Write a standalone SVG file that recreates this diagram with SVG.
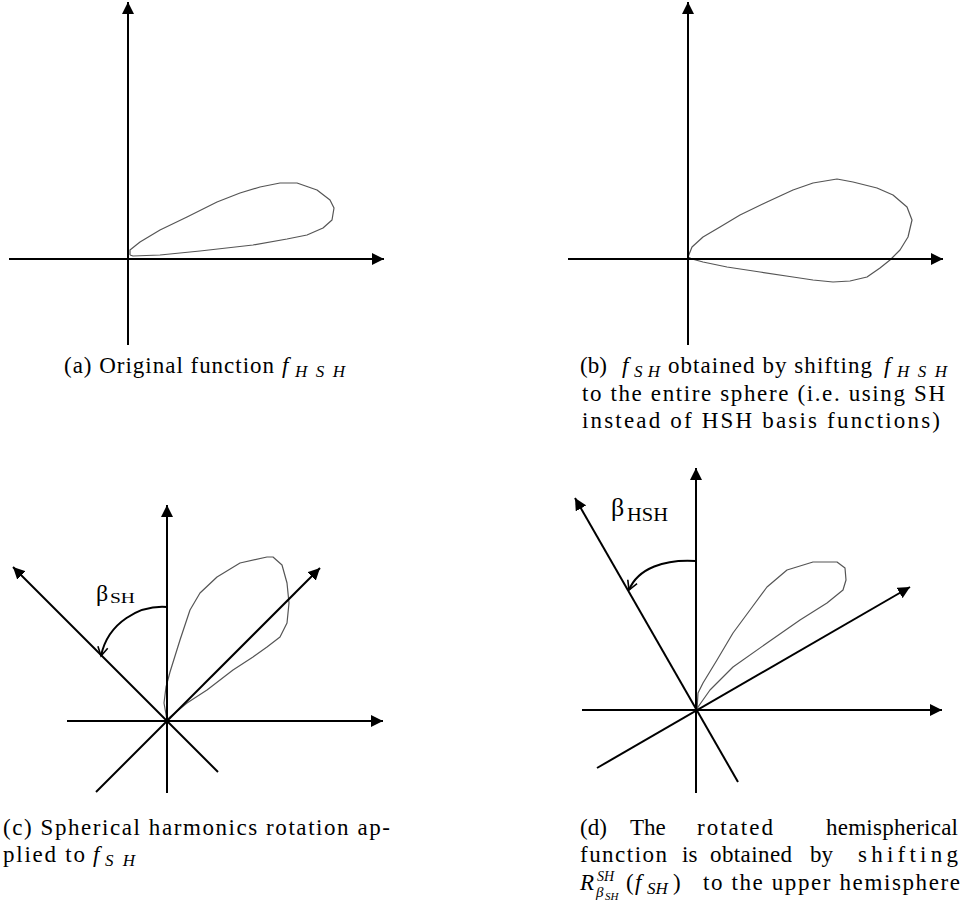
<svg xmlns="http://www.w3.org/2000/svg" width="962" height="903" viewBox="0 0 962 903">
<defs>
<marker id="ah" markerWidth="13" markerHeight="12" refX="12" refY="6" orient="auto" markerUnits="userSpaceOnUse"><path d="M0,0 L12,6 L0,12 z" fill="#000"/></marker>
<marker id="oa" markerWidth="12" markerHeight="12" refX="10" refY="6" orient="auto" markerUnits="userSpaceOnUse"><path d="M1,1 L10,6 L1,11" fill="none" stroke="#000" stroke-width="1.6"/></marker>
</defs>
<style>
.ax{stroke:#000;stroke-width:2;fill:none}
.arr{marker-end:url(#ah)}
.lobe{stroke:#555;stroke-width:1.2;fill:none;stroke-linejoin:round}
.arc{stroke:#000;stroke-width:2;fill:none;marker-end:url(#oa)}
</style>
<rect width="962" height="903" fill="#fff"/>

<g id="panel-a">
<polyline class="lobe" points="130,255 130,250 140,242 160,230 187,217 217,202 240,193 260,187 280,183 297,183 317,190 330,200 334,208 332,220 323,228 307,235 287,239 253,245 200,251 160,255 133,256 130,255"/>
</g>
<g id="panel-b">
<polyline class="lobe" points="688,257 692,247 703,237 720,227 740,215 767,202 793,190 813,183 837,179 853,182 877,188 893,195 907,207 912,220 908,237 900,250 890,260 880,268 867,277 850,281 833,282 813,280 793,277 760,272 727,267 703,262 692,259 688,257"/>
</g>
<g id="panel-c" font-family="Liberation Serif, DejaVu Serif, serif" fill="#000">
<polyline class="lobe" points="167,720 164,703 166,687 170,672 180,640 190,610 200,593 217,577 240,563 267,557 273,557 282,565 287,583 289,603 287,623 280,637 267,647 253,657 233,670 207,690 187,703 170,717 167,720"/>
<text x="96" y="601" font-size="24">β</text>
<text x="110" y="603" font-size="15" textLength="25" lengthAdjust="spacingAndGlyphs">SH</text>
</g>
<g id="panel-d" font-family="Liberation Serif, DejaVu Serif, serif" fill="#000">
<polyline class="lobe" points="697,710 698,693 703,683 717,660 733,633 750,610 767,587 787,570 813,562 837,562 845,568 846,580 843,590 827,603 800,620 767,643 733,667 710,690 698,707 697,710"/>
<text x="611" y="516" font-size="26">β</text>
<text x="627" y="521" font-size="18" textLength="41" lengthAdjust="spacingAndGlyphs">HSH</text>
</g>

<g id="connectors">
<path class="ax arr" d="M128,345 L128,2"/>
<path class="ax arr" d="M9,259 L384,259"/>
<path class="ax arr" d="M688,345 L688,2"/>
<path class="ax arr" d="M568,259 L943,259"/>
<path class="ax arr" d="M167,793 L167,505"/>
<path class="ax arr" d="M67,721 L383,721"/>
<path class="ax arr" d="M218,772 L13,567"/>
<path class="ax arr" d="M96,792 L320,568"/>
<path class="arc" d="M167,607 C140,605 108,622 101,656"/>
<path class="ax arr" d="M696,793 L696,468"/>
<path class="ax arr" d="M582,710 L942,710"/>
<path class="ax arr" d="M738,782 L575,498"/>
<path class="ax arr" d="M597,768 L910,587"/>
<path class="arc" d="M696,561 C665,559 638,568 629,590"/>
</g>

<g id="captions" font-family="Liberation Serif, DejaVu Serif, serif" font-size="23" fill="#000">
<text x="64" y="373" textLength="210" lengthAdjust="spacing">(a) Original function</text>
<text x="282" y="373" font-style="italic">f</text>
<text x="295" y="377" font-size="17" font-style="italic" textLength="50" lengthAdjust="spacing">HSH</text>

<text x="580" y="373">(b)</text>
<text x="622" y="373" font-style="italic">f</text>
<text x="634" y="377" font-size="17" font-style="italic" textLength="26" lengthAdjust="spacing">SH</text>
<text x="668" y="373" textLength="204" lengthAdjust="spacing">obtained by shifting</text>
<text x="884" y="373" font-style="italic">f</text>
<text x="897" y="377" font-size="17" font-style="italic" textLength="50" lengthAdjust="spacing">HSH</text>
<text x="582" y="401" textLength="363" lengthAdjust="spacing">to the entire sphere (i.e.  using SH</text>
<text x="582" y="428" textLength="358" lengthAdjust="spacing">instead of HSH basis functions)</text>

<text x="3" y="835" textLength="387" lengthAdjust="spacing">(c) Spherical harmonics rotation ap-</text>
<text x="3" y="862" textLength="82" lengthAdjust="spacing">plied to</text>
<text x="93" y="862" font-style="italic">f</text>
<text x="105" y="866" font-size="17" font-style="italic" textLength="30" lengthAdjust="spacing">SH</text>

<text x="580" y="835">(d)</text>
<text x="630" y="835">The</text>
<text x="697" y="835" textLength="76" lengthAdjust="spacing">rotated</text>
<text x="826" y="835" textLength="132" lengthAdjust="spacing">hemispherical</text>
<text x="580" y="862" textLength="87" lengthAdjust="spacing">function</text>
<text x="682" y="862">is</text>
<text x="710" y="862" textLength="82" lengthAdjust="spacing">obtained</text>
<text x="810" y="862">by</text>
<text x="858" y="862" textLength="100" lengthAdjust="spacing">shifting</text>
<text x="580" y="890" font-style="italic">R</text>
<text x="597" y="881" font-size="14" font-style="italic">SH</text>
<text x="596" y="897" font-size="15" font-style="italic">β</text>
<text x="605" y="900" font-size="11" font-style="italic">SH</text>
<text x="626" y="890">(</text>
<text x="635" y="890" font-style="italic">f</text>
<text x="647" y="894" font-size="17" font-style="italic">SH</text>
<text x="673" y="890">)</text>
<text x="703" y="890" textLength="257" lengthAdjust="spacing">to the upper hemisphere</text>
</g>
</svg>
